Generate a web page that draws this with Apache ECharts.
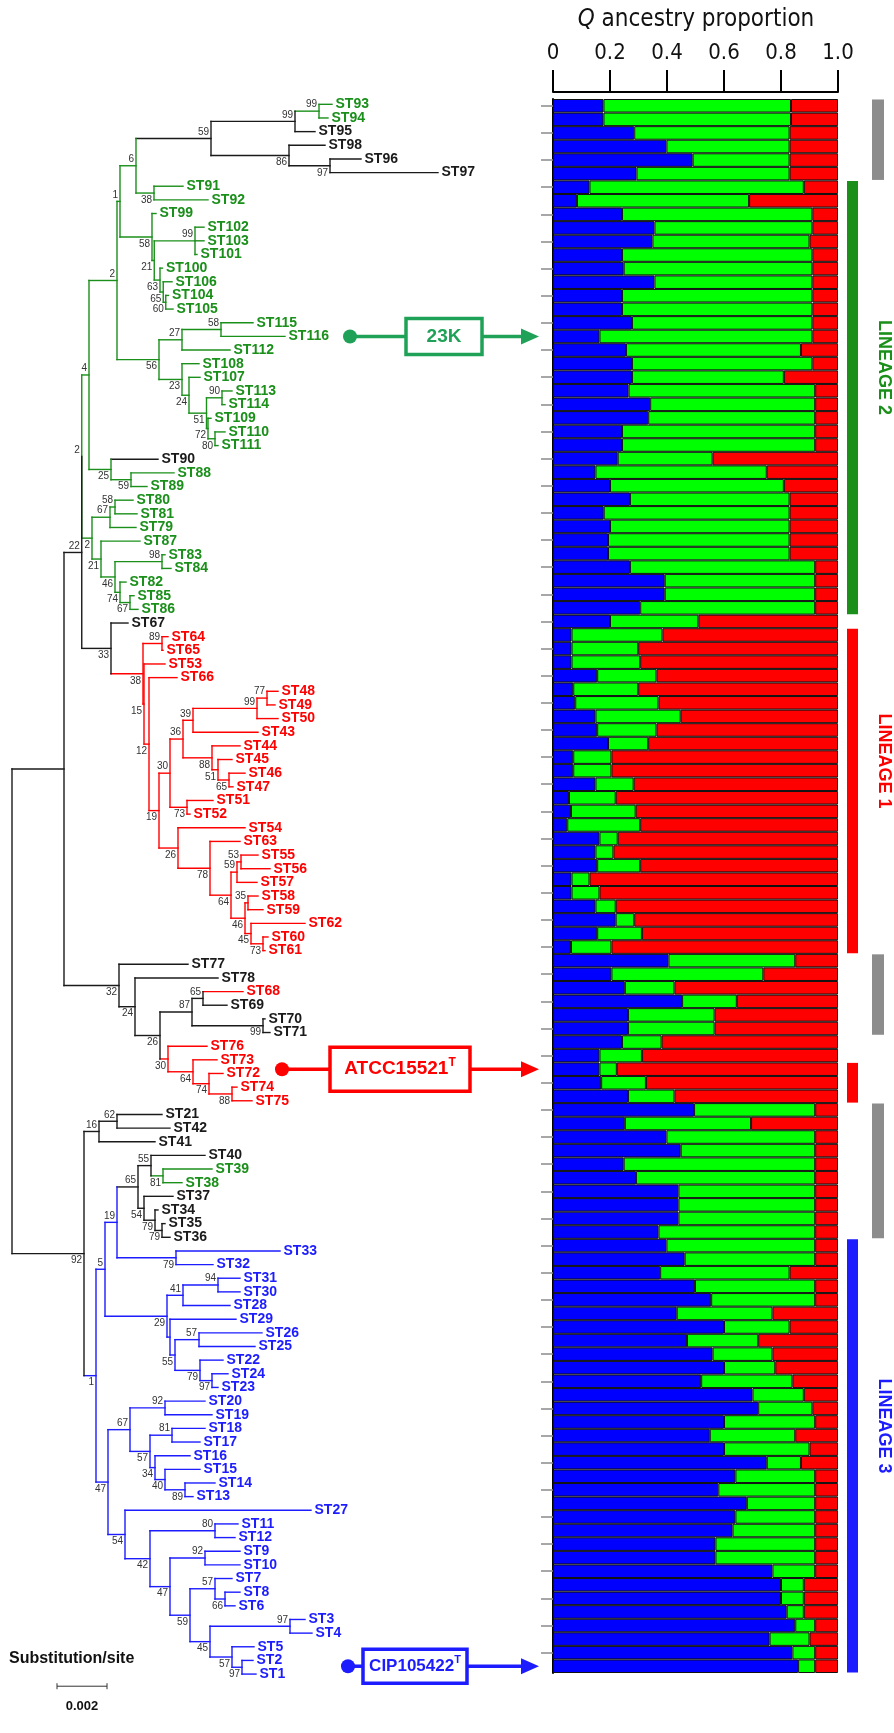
<!DOCTYPE html>
<html><head><meta charset="utf-8">
<script src="https://cdn.jsdelivr.net/npm/echarts/dist/echarts.min.js"></script>
<style>html,body{margin:0;padding:0;background:#fff}#c{width:894px;height:1733px}</style>
</head><body><div id="c"></div>
<script>
// ---------------- DATA ----------------
// Tree (Newick, branch lengths in substitutions/site, internal labels = bootstrap)
const nwkL2a = "((((ST93:0.00052,ST94:0.00036)99:0.00096,ST95:0.00080)99:0.00336,(ST98:0.00144,(ST96:0.00124,ST97:0.00432)97:0.00164)86:0.00312)59:0.00300,(ST91:0.00116,ST92:0.00216)38:0.00072)6:0.00064";
const nwkL2b = "(ST99:0.00016,((ST102:0.00036,ST103:0.00036,ST101:0.00008)99:0.00163,(ST100:0.00010,(ST106:0.00035,(ST104:0.00011,ST105:0.00029)60:0.00010)65:0.00013)63:0.00023)21:0.00009)58:0.00128";
const nwkL2c = "(((ST115:0.00128,ST116:0.00256)58:0.00156,ST112:0.00192)27:0.00092,(ST108:0.00068,(ST107:0.00044,((ST113:0.00040,ST114:0.00012)90:0.00062,(ST109:0.00012,(ST110:0.00040,ST111:0.00012)80:0.00028)72:0.00006)51:0.00070)24:0.00028)23:0.00092)56:0.00168";
const nwkL2d = "(ST90:0.00188,(ST88:0.00172,ST89:0.00064)59:0.00080)25:0.00088";
const nwkL2e = "(((ST80:0.00072,ST81:0.00088)58:0.00020,ST79:0.00104)67:0.00072,(ST87:0.00156,((ST83:0.00012,ST84:0.00036)98:0.00188,(ST82:0.00024,(ST85:0.00016,ST86:0.00032)67:0.00040)74:0.00020)46:0.00056)21:0.00036)2:0.00041";
const nwkL1 = "(ST67:0.00068,((ST64:0.00024,ST65:0.00004)89:0.00076,(ST53:0.00084,(ST66:0.00112,((((((ST48:0.00044,ST49:0.00032)77:0.00040,ST50:0.00084)99:0.00256,ST43:0.00260)39:0.00040,(ST44:0.00112,(ST45:0.00056,(ST46:0.00064,ST47:0.00016)65:0.00044)51:0.00024)88:0.00116)36:0.00052,(ST51:0.00104,ST52:0.00012)73:0.00068)30:0.00044,(ST54:0.00268,(ST63:0.00120,(((ST55:0.00068,ST56:0.00116)53:0.00016,ST57:0.00080)59:0.00024,((ST58:0.00040,ST59:0.00060)35:0.00012,(ST62:0.00216,(ST60:0.00020,ST61:0.00008)73:0.00048)45:0.00024)46:0.00056)64:0.00084)78:0.00128)26:0.00076)19:0.00040)12:0.00020)15:0.00004)38:0.00128)33:0.00117";
const nwkMid = "(ST77:0.00276,(ST78:0.00332,(((ST68:0.00160,ST69:0.00096)65:0.00044,(ST70:0.00008,ST71:0.00028)99:0.00284)87:0.00128,(ST76:0.00156,(ST73:0.00096,(ST72:0.00056,(ST74:0.00020,ST75:0.00080)88:0.00092)74:0.00064)64:0.00100)30:0.00032)26:0.00100)24:0.00064)32:0.00220";
const nwkL3a = "((ST21:0.00180,ST42:0.00212)62:0.00072,ST41:0.00224)16:0.00060";
const nwkL3b = "(((ST40:0.00216,(ST39:0.00196,ST38:0.00076)81:0.00048)55:0.00052,(ST37:0.00116,(ST34:0.00012,(ST35:0.00012,ST36:0.00032)79:0.00028)79:0.00044)54:0.00024)65:0.00084,(ST33:0.00416,ST32:0.00148)79:0.00236)19:0.00048";
const nwkL3c = "(((ST31:0.00088,ST30:0.00088)94:0.00140,ST28:0.00188)41:0.00064,(ST29:0.00264,((ST26:0.00252,ST25:0.00224)57:0.00096,(ST22:0.00092,(ST24:0.00064,ST23:0.00024)97:0.00048)79:0.00100)55:0.00020):0.00012)29:0.00248";
const nwkL3d = "((ST20:0.00160,ST19:0.00188)92:0.00140,((ST18:0.00132,ST17:0.00112)81:0.00088,(ST16:0.00140,(ST15:0.00140,(ST14:0.00120,ST13:0.00032)89:0.00080)40:0.00040)34:0.00020)57:0.00080)67:0.00088";
const nwkL3e = "(ST27:0.00744,((ST11:0.00092,ST12:0.00080)80:0.00260,((ST9:0.00140,ST10:0.00140)92:0.00140,((ST7:0.00068,(ST8:0.00060,ST6:0.00040)66:0.00040)57:0.00100,((ST3:0.00060,ST4:0.00088)97:0.00320,(ST5:0.00088,(ST2:0.00044,ST1:0.00056)97:0.00040)57:0.00088)45:0.00080)59:0.00080)47:0.00080)42:0.00100)54:0.00068";
const treeNewick = "((((((((" + nwkL2a + "," + nwkL2b + ")1:0.00012," + nwkL2c + ")2:0.00112," + nwkL2d + ")4:0.00029," + nwkL2e + ")2:0," + nwkL1 + ")22:0.00071," + nwkMid + "):0.00208,(" + nwkL3a + ",((" + nwkL3b + "," + nwkL3c + ")5:0.00036,(" + nwkL3d + "," + nwkL3e + ")47:0.00048)1:0.00048)92:0.00288);";

const greenST = ['ST93','ST94','ST91','ST92','ST99','ST102','ST103','ST101','ST100','ST106','ST104','ST105','ST115','ST116','ST112','ST108','ST107','ST113','ST114','ST109','ST110','ST111','ST88','ST89','ST80','ST81','ST79','ST87','ST83','ST84','ST82','ST85','ST86','ST39','ST38'];
const redST = ['ST64','ST65','ST53','ST66','ST48','ST49','ST50','ST43','ST44','ST45','ST46','ST47','ST51','ST52','ST54','ST63','ST55','ST56','ST57','ST58','ST59','ST62','ST60','ST61','ST68','ST76','ST73','ST72','ST74','ST75'];
const blueST = ['ST33','ST32','ST31','ST30','ST28','ST29','ST26','ST25','ST22','ST24','ST23','ST20','ST19','ST18','ST17','ST16','ST15','ST14','ST13','ST27','ST11','ST12','ST9','ST10','ST7','ST8','ST6','ST3','ST4','ST5','ST2','ST1'];
// internal nodes (given as most recent common ancestor of two STs) drawn in lineage colour
const greenNodes = [['ST93','ST91'],['ST90','ST88']];
const blueNodes = [['ST40','ST33']];

// STRUCTURE Q proportions, one row per ST in tree order
const qBlue = [.177,.177,.285,.398,.490,.293,.128,.084,.242,.356,
 .349,.242,.248,.356,.242,.242,.277,.163,.256,.277,
 .277,.265,.341,.334,.242,.242,.227,.149,.200,.270,
 .178,.200,.193,.193,.270,.392,.392,.306,.200,.065,
 .065,.065,.155,.071,.078,.149,.155,.193,.071,.071,
 .149,.056,.063,.050,.163,.149,.155,.065,.065,.149,
 .220,.155,.063,.405,.205,.252,.453,.263,.263,.242,
 .163,.163,.169,.263,.495,.252,.398,.448,.248,.291,
 .440,.440,.440,.370,.398,.462,.376,.498,.555,.434,
 .600,.470,.560,.600,.520,.700,.720,.600,.550,.600,
 .750,.640,.580,.680,.640,.630,.570,.570,.770,.800,
 .800,.820,.850,.760,.840,.860];
const qGreen = [.658,.658,.545,.432,.340,.537,.752,.604,.668,.554,
 .551,.668,.662,.554,.668,.668,.633,.747,.614,.633,
 .533,.655,.579,.586,.678,.678,.333,.601,.610,.560,
 .652,.630,.637,.637,.650,.528,.528,.614,.310,.319,
 .234,.241,.208,.228,.292,.299,.208,.141,.134,.134,
 .134,.164,.227,.256,.064,.063,.151,.063,.098,.071,
 .065,.157,.142,.445,.533,.174,.192,.304,.304,.139,
 .149,.061,.157,.163,.425,.443,.522,.472,.672,.629,
 .480,.480,.480,.550,.522,.458,.454,.422,.365,.336,
 .230,.250,.210,.180,.320,.180,.190,.320,.300,.300,
 .120,.280,.340,.240,.280,.290,.350,.350,.150,.080,
 .080,.060,.070,.140,.080,.060];
const qRed = [.165,.165,.170,.170,.170,.170,.120,.312,.090,.090,
 .100,.090,.090,.090,.090,.090,.090,.090,.130,.090,
 .190,.080,.080,.080,.080,.080,.440,.250,.190,.170,
 .170,.170,.170,.170,.080,.080,.080,.080,.490,.616,
 .701,.694,.637,.701,.630,.552,.637,.666,.795,.795,
 .717,.780,.710,.694,.773,.788,.694,.872,.837,.780,
 .715,.688,.795,.150,.262,.574,.355,.433,.433,.619,
 .688,.776,.674,.574,.080,.305,.080,.080,.080,.080,
 .080,.080,.080,.080,.080,.080,.170,.080,.080,.230,
 .170,.280,.230,.220,.160,.120,.090,.080,.150,.100,
 .130,.080,.080,.080,.080,.080,.080,.080,.080,.120,
 .120,.120,.080,.100,.080,.080];
const qTicks = [0, 0.2, 0.4, 0.6, 0.8, 1.0];
const scaleBarValue = 0.002;

// lineage bands on the right (row ranges)
const bandRows = [[0,5],[6,37],[39,62],[63,68],[71,73],[74,83],[84,115]];
const bandNames = ['', 'LINEAGE 2', 'LINEAGE 1', '', '', '', 'LINEAGE 3'];
const bandKinds = ['grey','g','r','grey','r','grey','b'];
// call-outs: strain, row pointed at
const calloutText = ['23K', 'ATCC15521', 'CIP105422'];
const calloutSup = ['', 'T', 'T'];
const calloutRow = [17, 71, 115];
const calloutKind = ['k23', 'r', 'b'];

// ---------------- STYLE / LAYOUT ----------------
const COL = {k:'#1a1a1a', g:'#1a8f1a', r:'#ff0000', b:'#1c1cff', grey:'#8c8c8c', k23:'#1fa257'};
const colorKeys = ['k','g','r','b','grey'];
const PX_PER_UNIT = 25000;
const TREE_LEFT = 12, TREE_W = 488, TREE_TOP = 97.5, TREE_H = 1583.4;
const BAR_LEFT = 553, BAR_W = 285, BAR_TOP = 99, BAR_H = 1574;

// ---------------- TREE PARSE ----------------
function parseNewick(s){
  let i = 0;
  function node(){
    const n = {children:[], name:'', len:0};
    if (s[i] === '('){
      i++;
      n.children.push(node());
      while (s[i] === ','){ i++; n.children.push(node()); }
      i++;
    }
    let nm = '';
    while (i < s.length && !',():;'.includes(s[i])) nm += s[i++];
    n.name = nm.trim();
    if (s[i] === ':'){
      i++; let l = '';
      while (i < s.length && !',();'.includes(s[i])) l += s[i++];
      n.len = parseFloat(l);
    }
    return n;
  }
  return node();
}
const root = parseNewick(treeNewick);
const leaves = [], nodes = [];
(function walk(n, px, parent){
  n.x = px + (n.len || 0); n.parent = parent;
  if (!n.children.length){ n.y = leaves.length; leaves.push(n); }
  else { n.children.forEach(c => walk(c, n.x, n)); n.y = (n.children[0].y + n.children[n.children.length-1].y) / 2; }
  nodes.push(n);
})(root, 0, null);

const leafByName = {}; leaves.forEach(l => leafByName[l.name] = l);
function lca(a, b){
  const seen = new Set(); let p = leafByName[a];
  while (p){ seen.add(p); p = p.parent; }
  p = leafByName[b];
  while (p && !seen.has(p)) p = p.parent;
  return p;
}
const override = new Map();
greenNodes.forEach(pr => override.set(lca(pr[0], pr[1]), 'g'));
blueNodes.forEach(pr => override.set(lca(pr[0], pr[1]), 'b'));
const leafCol = {};
greenST.forEach(s => leafCol[s] = 'g'); redST.forEach(s => leafCol[s] = 'r'); blueST.forEach(s => leafCol[s] = 'b');
nodes.forEach(n => {
  if (!n.children.length) n.col = leafCol[n.name] || 'k';
  else if (!n.parent) n.col = 'grey';
  else if (override.has(n)) n.col = override.get(n);
  else { const s = new Set(n.children.map(c => c.col)); n.col = s.size === 1 ? [...s][0] : 'k'; }
});

const segs = [];
nodes.forEach(n => {
  const ci = colorKeys.indexOf(n.col);
  if (n.children.length) segs.push([n.x, n.children[0].y, n.x, n.children[n.children.length-1].y, ci]);
  if (n.parent) segs.push([n.parent.x, n.y, n.x, n.y, ci]);
});
const leafPts = leaves.map((l, i) => [l.x, l.y, i]);
const bootNodes = nodes.filter(n => n.children.length && n.parent && n.name !== '');
const bootPts = bootNodes.map((n, i) => [n.x, n.y, i]);

// ---------------- CHART ----------------
const chart = echarts.init(document.getElementById('c'), null, {renderer:'canvas'});
const FONT_AX = 'DejaVu Sans Condensed, DejaVu Sans, sans-serif';

const option = {
  animation: false,
  backgroundColor: '#fff',
  grid: [
    {left: TREE_LEFT, top: TREE_TOP, width: TREE_W, height: TREE_H},
    {left: BAR_LEFT, top: BAR_TOP, width: BAR_W, height: BAR_H}
  ],
  xAxis: [
    {gridIndex:0, type:'value', min:0, max: TREE_W / PX_PER_UNIT, show:false},
    {gridIndex:1, type:'value', min:0, max:1, interval:0.2, position:'top', offset:7,
     axisLine:{show:true, lineStyle:{color:'#000', width:2}},
     axisTick:{show:true, length:22, lineStyle:{color:'#000', width:2}},
     splitLine:{show:false},
     axisLabel:{margin:28, fontSize:22, color:'#111', fontFamily:FONT_AX,
       formatter: v => v === 0 ? '0' : v.toFixed(1)}}
  ],
  yAxis: [
    {gridIndex:0, type:'value', min:-0.5, max:leaves.length - 0.5, inverse:true, show:false},
    {gridIndex:1, type:'category', inverse:true, data: leaves.map(l => l.name),
     axisLine:{show:true, lineStyle:{color:'#000', width:2}},
     axisTick:{show:true, length:12, alignWithLabel:true, lineStyle:{color:'#8a8a8a', width:1.5}},
     axisLabel:{show:false}, splitLine:{show:false}}
  ],
  series: [
    {type:'bar', name:'blue', stack:'q', xAxisIndex:1, yAxisIndex:1, data:qBlue, barCategoryGap:'0%',
     itemStyle:{color:'#0000ff', borderColor:'#111', borderWidth:1}},
    {type:'bar', name:'green', stack:'q', xAxisIndex:1, yAxisIndex:1, data:qGreen, barCategoryGap:'0%',
     itemStyle:{color:'#00ff00', borderColor:'#111', borderWidth:1}},
    {type:'bar', name:'red', stack:'q', xAxisIndex:1, yAxisIndex:1, data:qRed, barCategoryGap:'0%',
     itemStyle:{color:'#ff0000', borderColor:'#111', borderWidth:1}},
    {type:'custom', xAxisIndex:0, yAxisIndex:0, data:segs, clip:false,
     dimensions:['x1','y1','x2','y2','c'], encode:{x:[0,2], y:[1,3]},
     renderItem:(p, api) => {
       const a = api.coord([api.value(0), api.value(1)]);
       const b = api.coord([api.value(2), api.value(3)]);
       return {type:'line', shape:{x1:a[0], y1:a[1], x2:b[0], y2:b[1]},
               style:{stroke: COL[colorKeys[api.value(4)]], lineWidth:1.4, lineCap:'square'}};
     }},
    {type:'custom', xAxisIndex:0, yAxisIndex:0, data:leafPts, clip:false,
     encode:{x:0, y:1},
     renderItem:(p, api) => {
       const l = leaves[api.value(2)];
       const a = api.coord([api.value(0), api.value(1)]);
       return {type:'text', x:a[0] + 3.5, y:a[1],
               style:{text:l.name, fill: COL[l.col], font:'bold 14px "Liberation Sans", Arial, sans-serif',
                      align:'left', verticalAlign:'middle'}};
     }},
    {type:'custom', xAxisIndex:0, yAxisIndex:0, data:bootPts, clip:false,
     encode:{x:0, y:1},
     renderItem:(p, api) => {
       const n = bootNodes[api.value(2)];
       const a = api.coord([api.value(0), api.value(1)]);
       const first = n.parent.children[0] === n;
       return {type:'text', x:a[0] - 2, y: first ? a[1] - 1.5 : a[1] + 2,
               style:{text:n.name, fill:'#333', font:'10px "Liberation Sans", Arial, sans-serif',
                      align:'right', verticalAlign: first ? 'bottom' : 'top'}};
     }}
  ]
};
chart.setOption(option);

// ---------------- ANNOTATIONS ----------------
function rowY(i){ return chart.convertToPixel({xAxisIndex:1, yAxisIndex:1}, [0, i])[1]; }
const g = [];
// title
g.push({type:'text', x:696, y:20, z:10, style:{text:'{q|Q} ancestry proportion', x:0, y:0,
  font:'24px ' + FONT_AX, fill:'#111', align:'center', verticalAlign:'middle',
  rich:{q:{fontStyle:'italic', fontSize:24, fontFamily:FONT_AX}}}});
// lineage bands
bandRows.forEach((r, i) => {
  const y0 = rowY(r[0]) - 6.3, y1 = rowY(r[1]) + 6.3;
  const isGrey = bandKinds[i] === 'grey';
  g.push({type:'rect', shape:{x: isGrey ? 872 : 847, y:y0, width: isGrey ? 12 : 11, height:y1 - y0},
          style:{fill: COL[bandKinds[i]]}});
  if (bandNames[i]) {
    g.push({type:'text', x:884, y:(y0 + y1) / 2 - 30, rotation:-Math.PI/2,
            style:{text:bandNames[i], fill:COL[bandKinds[i]], font:'bold 18px "Liberation Sans", Arial, sans-serif',
                   align:'center', verticalAlign:'middle'}});
  }
});
// call-outs
const calloutGeom = [{dot:350, box:406, w:76, h:36, fs:19}, {dot:282, box:330, w:140, h:44, fs:19}, {dot:348, box:363, w:104, h:34, fs:17}];
calloutText.forEach((t, i) => {
  const y = rowY(calloutRow[i]);
  const c = COL[calloutKind[i]];
  const geo = calloutGeom[i];
  g.push({type:'line', shape:{x1:geo.dot, y1:y, x2:geo.box, y2:y}, style:{stroke:c, lineWidth:3.5}});
  g.push({type:'circle', shape:{cx:geo.dot, cy:y, r:7}, style:{fill:c}});
  g.push({type:'rect', shape:{x:geo.box, y:y - geo.h/2, width:geo.w, height:geo.h}, style:{fill:'#fff', stroke:c, lineWidth:3.5}});
  g.push({type:'text', x:geo.box + geo.w/2, y:y, style:{
    text: calloutSup[i] ? '{a|' + t + '}{s|' + calloutSup[i] + '}' : '{a|' + t + '}',
    align:'center', verticalAlign:'middle',
    rich:{a:{fill:c, font:'bold ' + geo.fs + 'px "Liberation Sans", Arial, sans-serif', lineHeight:24},
          s:{fill:c, font:'bold ' + Math.round(geo.fs * 0.63) + 'px "Liberation Sans", Arial, sans-serif', lineHeight:24, verticalAlign:'top'}}}});
  g.push({type:'line', shape:{x1:geo.box + geo.w, y1:y, x2:523, y2:y}, style:{stroke:c, lineWidth:3.5}});
  g.push({type:'polygon', shape:{points:[[521, y - 8], [539, y], [521, y + 8]]}, style:{fill:c}});
});
// scale bar
const sbLen = chart.convertToPixel({xAxisIndex:0, yAxisIndex:0}, [scaleBarValue, 0])[0] - chart.convertToPixel({xAxisIndex:0, yAxisIndex:0}, [0, 0])[0];
const lastY = rowY(leaves.length - 1);
g.push({type:'text', x:9, y:lastY - 8, style:{text:'Substitution/site', fill:'#111', font:'bold 16px "Liberation Sans", Arial, sans-serif', align:'left', verticalAlign:'middle'}});
g.push({type:'line', shape:{x1:57, y1:lastY + 20, x2:57 + sbLen, y2:lastY + 20}, style:{stroke:'#333', lineWidth:1}});
g.push({type:'line', shape:{x1:57, y1:lastY + 17, x2:57, y2:lastY + 23}, style:{stroke:'#333', lineWidth:1}});
g.push({type:'line', shape:{x1:57 + sbLen, y1:lastY + 17, x2:57 + sbLen, y2:lastY + 23}, style:{stroke:'#333', lineWidth:1}});
g.push({type:'text', x:57 + sbLen/2, y:lastY + 40, style:{text:String(scaleBarValue), fill:'#111', font:'bold 13px "Liberation Sans", Arial, sans-serif', align:'center', verticalAlign:'middle'}});
chart.setOption({graphic: g});
</script>
</body></html>
